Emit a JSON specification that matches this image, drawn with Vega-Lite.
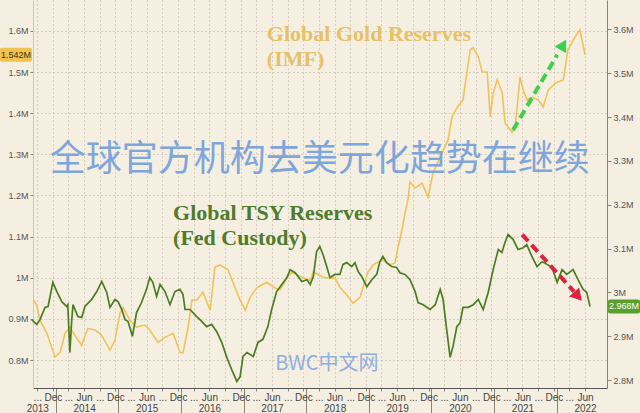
{
  "$schema": "https://vega.github.io/schema/vega-lite/v6.json",
  "width": 574,
  "height": 388,
  "autosize": {"type": "none"},
  "padding": {"left": 33, "top": 0, "right": 33, "bottom": 25},
  "background": "#f5efe2",
  "config": {"view": {"stroke": null}, "font": "Liberation Sans"},
  "encoding": {
    "x": {
      "field": "date",
      "type": "temporal",
      "scale": {"domain": [{"year": 2013, "month": 8, "date": 21}, {"year": 2022, "month": 10, "date": 21}]},
      "axis": {
        "title": null,
        "values": [
          {"year": 2013, "month": 9, "date": 15}, {"year": 2013, "month": 12, "date": 15},
          {"year": 2014, "month": 1, "date": 1}, {"year": 2014, "month": 3, "date": 15}, {"year": 2014, "month": 6, "date": 15}, {"year": 2014, "month": 9, "date": 15}, {"year": 2014, "month": 12, "date": 15},
          {"year": 2015, "month": 1, "date": 1}, {"year": 2015, "month": 3, "date": 15}, {"year": 2015, "month": 6, "date": 15}, {"year": 2015, "month": 9, "date": 15}, {"year": 2015, "month": 12, "date": 15},
          {"year": 2016, "month": 1, "date": 1}, {"year": 2016, "month": 3, "date": 15}, {"year": 2016, "month": 6, "date": 15}, {"year": 2016, "month": 9, "date": 15}, {"year": 2016, "month": 12, "date": 15},
          {"year": 2017, "month": 1, "date": 1}, {"year": 2017, "month": 3, "date": 15}, {"year": 2017, "month": 6, "date": 15}, {"year": 2017, "month": 9, "date": 15}, {"year": 2017, "month": 12, "date": 15},
          {"year": 2018, "month": 1, "date": 1}, {"year": 2018, "month": 3, "date": 15}, {"year": 2018, "month": 6, "date": 15}, {"year": 2018, "month": 9, "date": 15}, {"year": 2018, "month": 12, "date": 15},
          {"year": 2019, "month": 1, "date": 1}, {"year": 2019, "month": 3, "date": 15}, {"year": 2019, "month": 6, "date": 15}, {"year": 2019, "month": 9, "date": 15}, {"year": 2019, "month": 12, "date": 15},
          {"year": 2020, "month": 1, "date": 1}, {"year": 2020, "month": 3, "date": 15}, {"year": 2020, "month": 6, "date": 15}, {"year": 2020, "month": 9, "date": 15}, {"year": 2020, "month": 12, "date": 15},
          {"year": 2021, "month": 1, "date": 1}, {"year": 2021, "month": 3, "date": 15}, {"year": 2021, "month": 6, "date": 15}, {"year": 2021, "month": 9, "date": 15}, {"year": 2021, "month": 12, "date": 15},
          {"year": 2022, "month": 1, "date": 1}, {"year": 2022, "month": 3, "date": 15}, {"year": 2022, "month": 6, "date": 15}
        ],
        "labelExpr": "date(datum.value)==1 ? '' : month(datum.value)==5 ? ['Jun', '' + year(datum.value)] : month(datum.value)==11 ? 'Dec' : year(datum.value)==2013 ? ['...', '2013'] : '...'",
        "labelOverlap": false,
        "labelFlush": false,
        "labelFontSize": 10,
        "labelLineHeight": 11,
        "labelColor": "#444444",
        "labelPadding": 1,
        "grid": true,
        "gridDash": [1, 3],
        "gridColor": "#b9b1a2",
        "gridOpacity": {"condition": {"test": "date(datum.value)==1", "value": 0}, "value": 1},
        "tickSize": {"condition": {"test": "date(datum.value)==1", "value": 25}, "value": 3},
        "tickColor": "#8a8478",
        "domainColor": "#555555"
      }
    }
  },
  "layer": [
    {
      "encoding": {
        "y": {
          "field": "v",
          "type": "quantitative",
          "scale": {"domain": [0.732, 1.675], "nice": false, "zero": false},
          "axis": {
            "orient": "left",
            "title": null,
            "values": [0.8, 0.9, 1, 1.1, 1.2, 1.3, 1.4, 1.5, 1.6],
            "labelExpr": "datum.value + 'M'",
            "labelFontSize": 9,
            "labelColor": "#555555",
            "labelPadding": 2,
            "tickSize": 3,
            "tickColor": "#8a8478",
            "domainColor": "#cfc7b7",
            "grid": true,
            "gridDash": [1, 3],
            "gridColor": "#b9b1a2"
          }
        }
      },
      "layer": [
        {
          "data": {"values": [
            {"date": "2013-08-23", "v": 0.946}, {"date": "2013-09-12", "v": 0.933}, {"date": "2013-10-01", "v": 0.897}, {"date": "2013-11-10", "v": 0.865},
            {"date": "2013-12-27", "v": 0.807}, {"date": "2014-01-26", "v": 0.819}, {"date": "2014-02-24", "v": 0.865}, {"date": "2014-03-24", "v": 0.88},
            {"date": "2014-04-22", "v": 0.86}, {"date": "2014-06-01", "v": 0.836}, {"date": "2014-07-07", "v": 0.877}, {"date": "2014-08-17", "v": 0.873},
            {"date": "2014-09-26", "v": 0.86}, {"date": "2014-11-13", "v": 0.824}, {"date": "2014-12-12", "v": 0.848}, {"date": "2015-01-11", "v": 0.914},
            {"date": "2015-01-28", "v": 0.928}, {"date": "2015-03-09", "v": 0.897}, {"date": "2015-04-17", "v": 0.88}, {"date": "2015-06-05", "v": 0.885},
            {"date": "2015-07-03", "v": 0.873}, {"date": "2015-08-20", "v": 0.843}, {"date": "2015-09-30", "v": 0.855}, {"date": "2015-11-16", "v": 0.865},
            {"date": "2015-12-26", "v": 0.819}, {"date": "2016-01-13", "v": 0.817}, {"date": "2016-02-12", "v": 0.88}, {"date": "2016-03-05", "v": 0.946},
            {"date": "2016-04-04", "v": 0.946}, {"date": "2016-05-08", "v": 0.965}, {"date": "2016-06-19", "v": 0.921}, {"date": "2016-07-17", "v": 1.026},
            {"date": "2016-08-16", "v": 1.031}, {"date": "2016-10-02", "v": 1.019}, {"date": "2016-11-01", "v": 0.987}, {"date": "2016-12-11", "v": 0.946},
            {"date": "2017-01-10", "v": 0.921}, {"date": "2017-02-08", "v": 0.953}, {"date": "2017-03-17", "v": 0.975}, {"date": "2017-05-15", "v": 0.989},
            {"date": "2017-07-03", "v": 0.975}, {"date": "2017-08-01", "v": 0.97}, {"date": "2017-09-10", "v": 0.999}, {"date": "2017-10-09", "v": 1.014},
            {"date": "2017-12-06", "v": 1.001}, {"date": "2018-01-24", "v": 0.994}, {"date": "2018-02-11", "v": 1.014}, {"date": "2018-04-09", "v": 1.001},
            {"date": "2018-05-19", "v": 0.999}, {"date": "2018-06-18", "v": 0.999}, {"date": "2018-07-16", "v": 0.977}, {"date": "2018-08-25", "v": 0.958},
            {"date": "2018-10-01", "v": 0.938}, {"date": "2018-11-11", "v": 0.953}, {"date": "2018-11-28", "v": 0.977}, {"date": "2018-12-27", "v": 1.014},
            {"date": "2019-01-26", "v": 1.031}, {"date": "2019-02-23", "v": 1.038}, {"date": "2019-03-24", "v": 1.043}, {"date": "2019-05-04", "v": 1.031},
            {"date": "2019-06-02", "v": 1.036}, {"date": "2019-06-20", "v": 1.074}, {"date": "2019-07-13", "v": 1.116}, {"date": "2019-07-31", "v": 1.157},
            {"date": "2019-08-17", "v": 1.189}, {"date": "2019-08-29", "v": 1.233}, {"date": "2019-09-28", "v": 1.218}, {"date": "2019-11-08", "v": 1.23},
            {"date": "2019-12-12", "v": 1.196}, {"date": "2020-01-11", "v": 1.255}, {"date": "2020-02-21", "v": 1.293}, {"date": "2020-04-07", "v": 1.335},
            {"date": "2020-04-30", "v": 1.391}, {"date": "2020-05-29", "v": 1.413}, {"date": "2020-07-03", "v": 1.432}, {"date": "2020-08-14", "v": 1.554},
            {"date": "2020-09-01", "v": 1.559}, {"date": "2020-09-30", "v": 1.537}, {"date": "2020-10-23", "v": 1.5}, {"date": "2020-11-21", "v": 1.5},
            {"date": "2020-12-09", "v": 1.391}, {"date": "2020-12-26", "v": 1.449}, {"date": "2021-01-19", "v": 1.481}, {"date": "2021-02-17", "v": 1.449},
            {"date": "2021-03-05", "v": 1.376}, {"date": "2021-04-15", "v": 1.354}, {"date": "2021-05-03", "v": 1.364}, {"date": "2021-06-01", "v": 1.488},
            {"date": "2021-06-19", "v": 1.456}, {"date": "2021-07-12", "v": 1.432}, {"date": "2021-08-10", "v": 1.439}, {"date": "2021-09-15", "v": 1.432},
            {"date": "2021-10-14", "v": 1.415}, {"date": "2021-11-12", "v": 1.456}, {"date": "2021-12-23", "v": 1.473}, {"date": "2022-02-08", "v": 1.481},
            {"date": "2022-03-07", "v": 1.554}, {"date": "2022-04-17", "v": 1.585}, {"date": "2022-05-16", "v": 1.602}, {"date": "2022-06-15", "v": 1.542}
          ]},
          "mark": {"type": "line", "color": "#efc35a", "strokeWidth": 1.6}
        },
        {
          "data": {"values": [{"date": "2017-05-16", "v": 1.617}]},
          "mark": {"type": "text", "text": ["Global Gold Reserves", "(IMF)"], "align": "left", "baseline": "top", "font": "Liberation Serif", "fontWeight": "bold", "fontSize": 22, "lineHeight": 25, "color": "#e6c168"}
        },
        {
          "data": {"values": [{"date": "2021-04-21", "v": 1.359, "date2": "2022-01-04", "v2": 1.542}]},
          "mark": {"type": "rule", "color": "#3fcf4a", "strokeWidth": 4, "strokeDash": [9, 5]},
          "encoding": {"x2": {"field": "date2"}, "y2": {"field": "v2"}}
        },
        {
          "data": {"values": [{"date": "2022-02-08", "v": 1.566}]},
          "mark": {"type": "point", "shape": "triangle-up", "filled": true, "opacity": 1, "size": 180, "angle": 30, "color": "#3fcf4a"}
        },
        {
          "data": {"values": [{"date": "2013-08-21", "v": 1.542}]},
          "mark": {"type": "rect", "color": "#f3c24c", "cornerRadius": 2, "xOffset": -33, "x2Offset": -1, "yOffset": -7, "y2Offset": 7},
          "encoding": {"x2": {"field": "date"}, "y2": {"field": "v"}}
        },
        {
          "data": {"values": [{"date": "2013-08-21", "v": 1.542}]},
          "mark": {"type": "text", "text": "1.542M", "dx": -17, "align": "center", "baseline": "middle", "fontSize": 9, "color": "#3a3220"}
        }
      ]
    },
    {
      "encoding": {
        "y": {
          "field": "v",
          "type": "quantitative",
          "scale": {"domain": [2.782, 3.667], "nice": false, "zero": false},
          "axis": {
            "orient": "right",
            "title": null,
            "values": [2.8, 2.9, 3, 3.1, 3.2, 3.3, 3.4, 3.5, 3.6],
            "labelExpr": "datum.value + 'M'",
            "labelFontSize": 9,
            "labelColor": "#555555",
            "labelPadding": 2,
            "tickSize": 4,
            "tickColor": "#8a8478",
            "domainColor": "#8a8478",
            "grid": false
          }
        }
      },
      "layer": [
        {
          "data": {"values": [
            {"date": "2013-08-13", "v": 2.938}, {"date": "2013-09-12", "v": 2.927}, {"date": "2013-10-01", "v": 2.938}, {"date": "2013-10-30", "v": 2.966},
            {"date": "2013-11-17", "v": 2.968}, {"date": "2013-12-15", "v": 3.023}, {"date": "2014-01-07", "v": 3.002}, {"date": "2014-02-05", "v": 2.979},
            {"date": "2014-03-05", "v": 2.968}, {"date": "2014-03-12", "v": 2.972}, {"date": "2014-03-24", "v": 2.863}, {"date": "2014-04-03", "v": 2.931},
            {"date": "2014-04-11", "v": 2.972}, {"date": "2014-05-10", "v": 2.945}, {"date": "2014-06-01", "v": 2.943}, {"date": "2014-06-20", "v": 2.968},
            {"date": "2014-07-29", "v": 2.984}, {"date": "2014-08-28", "v": 3.002}, {"date": "2014-09-26", "v": 3.025}, {"date": "2014-10-25", "v": 3.0},
            {"date": "2014-11-13", "v": 2.966}, {"date": "2014-12-12", "v": 2.984}, {"date": "2014-12-30", "v": 2.979}, {"date": "2015-01-21", "v": 2.961},
            {"date": "2015-02-09", "v": 2.938}, {"date": "2015-02-26", "v": 2.934}, {"date": "2015-03-24", "v": 2.9}, {"date": "2015-04-17", "v": 2.954},
            {"date": "2015-05-16", "v": 2.977}, {"date": "2015-06-14", "v": 3.007}, {"date": "2015-07-03", "v": 3.034}, {"date": "2015-07-21", "v": 3.023},
            {"date": "2015-08-12", "v": 2.991}, {"date": "2015-09-01", "v": 3.018}, {"date": "2015-09-30", "v": 3.002}, {"date": "2015-10-29", "v": 2.972},
            {"date": "2015-11-27", "v": 3.002}, {"date": "2015-12-26", "v": 3.007}, {"date": "2016-01-13", "v": 2.995}, {"date": "2016-01-25", "v": 2.961},
            {"date": "2016-02-23", "v": 2.961}, {"date": "2016-04-02", "v": 2.945}, {"date": "2016-05-01", "v": 2.934}, {"date": "2016-05-30", "v": 2.922},
            {"date": "2016-06-28", "v": 2.927}, {"date": "2016-07-27", "v": 2.911}, {"date": "2016-08-26", "v": 2.886}, {"date": "2016-09-24", "v": 2.852},
            {"date": "2016-10-23", "v": 2.824}, {"date": "2016-11-22", "v": 2.797}, {"date": "2016-12-11", "v": 2.808}, {"date": "2016-12-28", "v": 2.854},
            {"date": "2017-01-20", "v": 2.863}, {"date": "2017-02-26", "v": 2.854}, {"date": "2017-03-25", "v": 2.886}, {"date": "2017-04-23", "v": 2.893},
            {"date": "2017-05-22", "v": 2.922}, {"date": "2017-06-13", "v": 2.961}, {"date": "2017-07-12", "v": 3.002}, {"date": "2017-08-11", "v": 3.018},
            {"date": "2017-09-10", "v": 3.034}, {"date": "2017-09-29", "v": 3.052}, {"date": "2017-10-28", "v": 3.045}, {"date": "2017-12-06", "v": 3.025},
            {"date": "2018-01-05", "v": 3.029}, {"date": "2018-01-24", "v": 3.018}, {"date": "2018-02-11", "v": 3.036}, {"date": "2018-03-02", "v": 3.093},
            {"date": "2018-03-21", "v": 3.105}, {"date": "2018-04-09", "v": 3.086}, {"date": "2018-04-30", "v": 3.059}, {"date": "2018-05-19", "v": 3.034},
            {"date": "2018-06-18", "v": 3.041}, {"date": "2018-07-16", "v": 3.041}, {"date": "2018-08-03", "v": 3.064}, {"date": "2018-08-25", "v": 3.068},
            {"date": "2018-09-23", "v": 3.059}, {"date": "2018-10-12", "v": 3.068}, {"date": "2018-10-30", "v": 3.048}, {"date": "2018-11-21", "v": 3.036},
            {"date": "2018-12-20", "v": 3.013}, {"date": "2019-01-18", "v": 3.029}, {"date": "2019-02-16", "v": 3.041}, {"date": "2019-03-06", "v": 3.07},
            {"date": "2019-03-24", "v": 3.082}, {"date": "2019-04-15", "v": 3.068}, {"date": "2019-05-14", "v": 3.059}, {"date": "2019-06-12", "v": 3.057},
            {"date": "2019-07-01", "v": 3.045}, {"date": "2019-07-31", "v": 3.041}, {"date": "2019-08-29", "v": 3.029}, {"date": "2019-09-28", "v": 3.002},
            {"date": "2019-10-15", "v": 2.977}, {"date": "2019-11-14", "v": 2.972}, {"date": "2019-12-24", "v": 2.961}, {"date": "2020-01-23", "v": 2.972},
            {"date": "2020-02-21", "v": 3.007}, {"date": "2020-03-09", "v": 2.984}, {"date": "2020-03-30", "v": 2.915}, {"date": "2020-04-19", "v": 2.852},
            {"date": "2020-05-06", "v": 2.877}, {"date": "2020-05-28", "v": 2.922}, {"date": "2020-06-16", "v": 2.931}, {"date": "2020-07-03", "v": 2.966},
            {"date": "2020-08-02", "v": 2.966}, {"date": "2020-09-01", "v": 2.972}, {"date": "2020-09-30", "v": 2.984}, {"date": "2020-10-29", "v": 2.961},
            {"date": "2020-11-27", "v": 3.0}, {"date": "2020-12-26", "v": 3.052}, {"date": "2021-01-25", "v": 3.098}, {"date": "2021-02-15", "v": 3.091},
            {"date": "2021-03-05", "v": 3.114}, {"date": "2021-03-23", "v": 3.132}, {"date": "2021-04-21", "v": 3.121}, {"date": "2021-05-20", "v": 3.098},
            {"date": "2021-06-19", "v": 3.102}, {"date": "2021-07-10", "v": 3.109}, {"date": "2021-08-09", "v": 3.082}, {"date": "2021-09-08", "v": 3.059},
            {"date": "2021-10-07", "v": 3.07}, {"date": "2021-11-05", "v": 3.064}, {"date": "2021-12-04", "v": 3.057}, {"date": "2022-01-03", "v": 3.023},
            {"date": "2022-02-01", "v": 3.052}, {"date": "2022-02-28", "v": 3.041}, {"date": "2022-04-06", "v": 3.052}, {"date": "2022-05-05", "v": 3.029},
            {"date": "2022-06-04", "v": 3.007}, {"date": "2022-06-25", "v": 3.0}, {"date": "2022-07-14", "v": 2.968}
          ]},
          "mark": {"type": "line", "color": "#4a7d20", "strokeWidth": 1.7}
        },
        {
          "data": {"values": [{"date": "2015-11-16", "v": 3.203}]},
          "mark": {"type": "text", "text": ["Global TSY Reserves", "(Fed Custody)"], "align": "left", "baseline": "top", "font": "Liberation Serif", "fontWeight": "bold", "fontSize": 22, "lineHeight": 25, "color": "#4f7b2c"}
        },
        {
          "data": {"values": [{"date": "2021-06-13", "v": 3.132, "date2": "2022-04-12", "v2": 3.002}]},
          "mark": {"type": "rule", "color": "#e0203f", "strokeWidth": 4, "strokeDash": [9, 5]},
          "encoding": {"x2": {"field": "date2"}, "y2": {"field": "v2"}}
        },
        {
          "data": {"values": [{"date": "2022-05-05", "v": 2.991}]},
          "mark": {"type": "point", "shape": "triangle-up", "filled": true, "opacity": 1, "size": 180, "angle": 138, "color": "#e0203f"}
        },
        {
          "data": {"values": [{"date": "2022-10-21", "v": 2.968}]},
          "mark": {"type": "rect", "color": "#5a9e2b", "cornerRadius": 2, "xOffset": 1, "x2Offset": 33, "yOffset": -7, "y2Offset": 7},
          "encoding": {"x2": {"field": "date"}, "y2": {"field": "v"}}
        },
        {
          "data": {"values": [{"date": "2022-10-21", "v": 2.968}]},
          "mark": {"type": "text", "text": "2.968M", "dx": 17, "align": "center", "baseline": "middle", "fontSize": 9, "color": "#ffffff"}
        },
        {
          "data": {"values": [{"date": "2018-03-21", "v": 3.303}]},
          "mark": {"type": "text", "text": "全球官方机构去美元化趋势在继续", "align": "center", "baseline": "middle", "font": "Noto Sans CJK SC", "fontSize": 36, "color": "#7fa6db"}
        },
        {
          "data": {"values": [{"date": "2018-05-01", "v": 2.836}]},
          "mark": {"type": "text", "text": "BWC中文网", "align": "center", "baseline": "middle", "font": "Noto Sans CJK SC", "fontSize": 20, "color": "#8fb0dc"}
        }
      ]
    }
  ],
  "resolve": {"scale": {"y": "independent"}}
}
